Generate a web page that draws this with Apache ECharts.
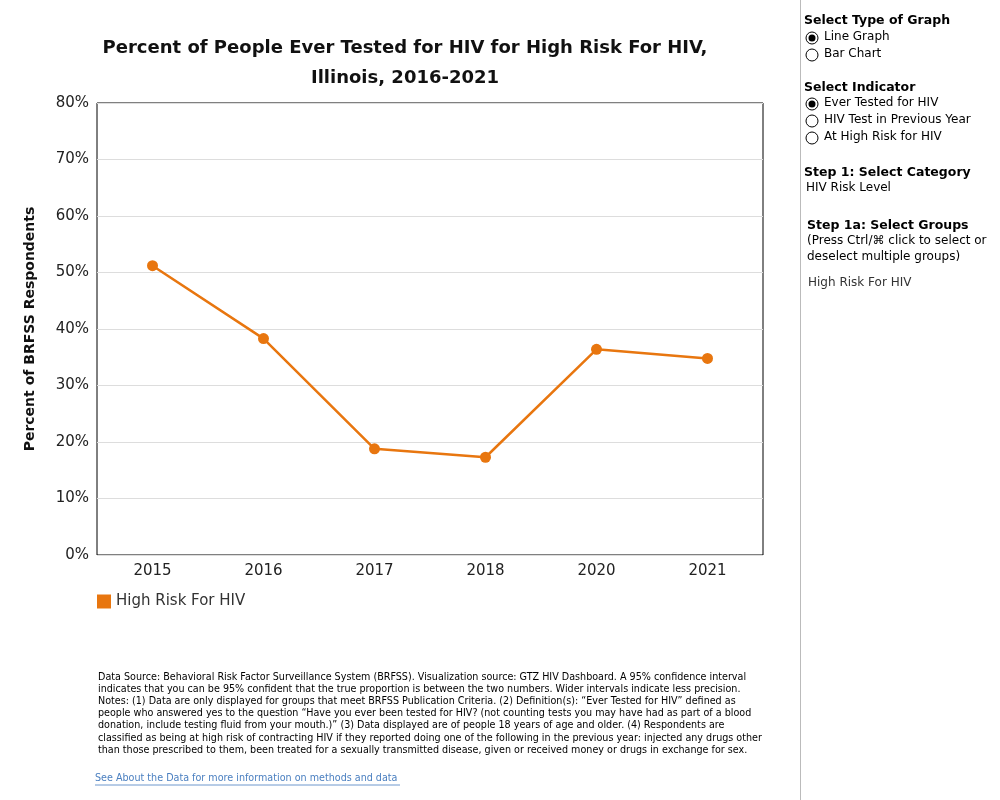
<!DOCTYPE html>
<html lang="en">
<head>
  <meta charset="UTF-8">
  <script src="https://cdn.jsdelivr.net/npm/echarts@6/dist/echarts.min.js"></script>
  <style>
    body { margin: 0; background: #fff; }
    #main { width: 1000px; height: 800px; }
  </style>
</head>
<body>
<div id="main"></div>
<script>
  var years = ['2015', '2016', '2017', '2018', '2020', '2021'];
  var pctTested = [51.2, 38.3, 18.8, 17.3, 36.4, 34.8];
  var yTicks = [0, 10, 20, 30, 40, 50, 60, 70, 80];
  var seriesName = 'High Risk For HIV';

  var font = 'Verdana, "DejaVu Sans", sans-serif';
  var orange = '#e8760f';

  var notes = [
    'Data Source: Behavioral Risk Factor Surveillance System (BRFSS). Visualization source: GTZ HIV Dashboard. A 95% confidence interval',
    'indicates that you can be 95% confident that the true proportion is between the two numbers. Wider intervals indicate less precision.',
    'Notes: (1) Data are only displayed for groups that meet BRFSS Publication Criteria. (2) Definition(s): \u201cEver Tested for HIV\u201d defined as',
    'people who answered yes to the question \u201cHave you ever been tested for HIV? (not counting tests you may have had as part of a blood',
    'donation, include testing fluid from your mouth.)\u201d (3) Data displayed are of people 18 years of age and older. (4) Respondents are',
    'classified as being at high risk of contracting HIV if they reported doing one of the following in the previous year: injected any drugs other',
    'than those prescribed to them, been treated for a sexually transmitted disease, given or received money or drugs in exchange for sex.'
  ];

  function txt(x, y, s, style) {
    return { type: 'text', left: x, top: y, style: Object.assign({ text: s, fill: '#000', font: '12px ' + font }, style || {}) };
  }
  function radio(x, y, on) {
    var g = [{ type: 'circle', shape: { cx: x, cy: y, r: 6 }, style: { fill: '#fff', stroke: '#000', lineWidth: 1 } }];
    if (on) g.push({ type: 'circle', shape: { cx: x, cy: y, r: 3.5 }, style: { fill: '#000' } });
    return g;
  }

  var graphics = [
    { type: 'line', shape: { x1: 800.5, y1: 0, x2: 800.5, y2: 800 }, style: { stroke: '#bbb', lineWidth: 1 } },
    txt(804, 14, 'Select Type of Graph', { font: 'bold 12.5px ' + font }),
    txt(824, 31, 'Line Graph'),
    txt(824, 48, 'Bar Chart'),
    txt(804, 81, 'Select Indicator', { font: 'bold 12.5px ' + font }),
    txt(824, 97, 'Ever Tested for HIV'),
    txt(824, 114, 'HIV Test in Previous Year'),
    txt(824, 131, 'At High Risk for HIV'),
    txt(804, 166, 'Step 1: Select Category', { font: 'bold 12.5px ' + font }),
    txt(806, 182, 'HIV Risk Level'),
    txt(807, 219, 'Step 1a: Select Groups', { font: 'bold 12.5px ' + font }),
    txt(807, 235, '(Press Ctrl/\u2318 click to select or'),
    txt(807, 251, 'deselect multiple groups)'),
    txt(808, 277, 'High Risk For HIV', { fill: '#333' }),
    txt(98, 671, notes.join('\n'), { font: '9.6px ' + font, lineHeight: 12.2 }),
    txt(95, 773, 'See About the Data for more information on methods and data', { font: '9.6px ' + font, fill: '#4a7fc0' }),
    { type: 'line', shape: { x1: 95, y1: 785, x2: 400, y2: 785 }, style: { stroke: '#4a7fc0', lineWidth: 0.8 } }
  ];
  graphics = graphics.concat(radio(812, 38, true), radio(812, 55, false),
    radio(812, 104, true), radio(812, 121, false), radio(812, 138, false));

  var chart = echarts.init(document.getElementById('main'));
  chart.setOption({
    animation: false,
    title: {
      text: 'Percent of People Ever Tested for HIV for High Risk For HIV,\nIllinois, 2016-2021',
      left: 400, top: 28, textAlign: 'center',
      textStyle: { fontFamily: font, fontSize: 18, fontWeight: 'bold', lineHeight: 30, color: '#111' }
    },
    legend: {
      left: 92, top: 589, icon: 'rect', itemWidth: 14, itemHeight: 14,
      textStyle: { fontFamily: font, fontSize: 15, color: '#333' },
      data: [seriesName]
    },
    grid: { left: 97, right: 237, top: 103, bottom: 245, show: true, borderColor: '#000', borderWidth: 1 },
    xAxis: {
      type: 'category', data: years, boundaryGap: true,
      axisLine: { show: false }, axisTick: { show: false },
      axisLabel: { fontFamily: font, fontSize: 15, color: '#222', margin: 9 }
    },
    yAxis: {
      type: 'value', min: yTicks[0], max: yTicks[yTicks.length - 1], interval: 10,
      name: 'Percent of BRFSS Respondents', nameLocation: 'middle', nameGap: 60,
      nameTextStyle: { fontFamily: font, fontSize: 14, fontWeight: 'bold', color: '#111' },
      axisLine: { show: false }, axisTick: { show: false },
      splitLine: { lineStyle: { color: '#ddd' } },
      axisLabel: { fontFamily: font, fontSize: 15, color: '#222', formatter: '{value}%', margin: 8 }
    },
    series: [{
      name: seriesName, type: 'line', data: pctTested,
      symbol: 'circle', symbolSize: 11,
      lineStyle: { color: orange, width: 2.5 }, itemStyle: { color: orange }
    }],
    graphic: graphics
  });
</script>
</body>
</html>
